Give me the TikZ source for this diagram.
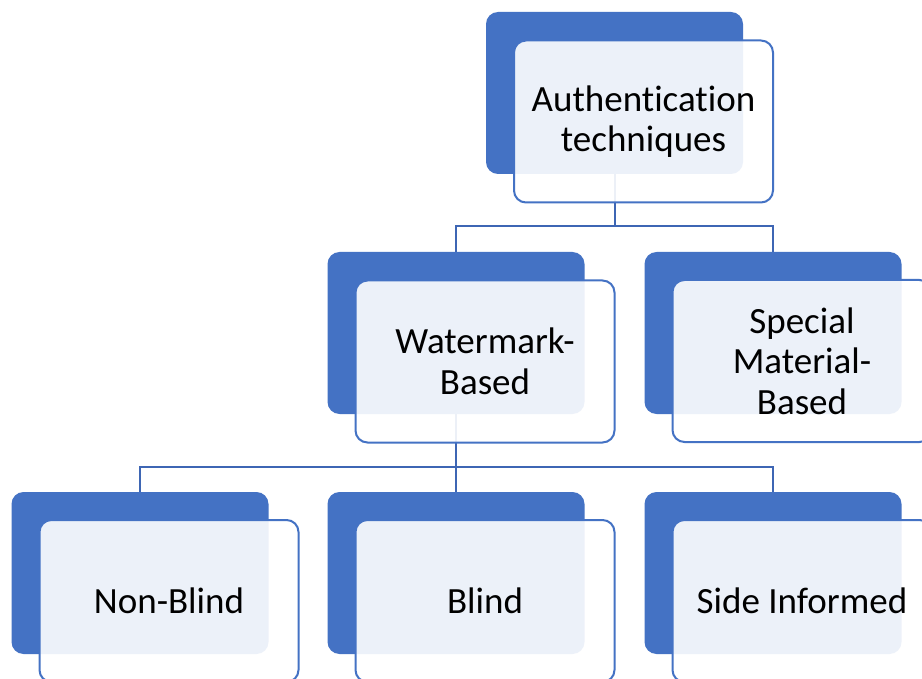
\documentclass[tikz,border=0pt]{standalone}
\usepackage{fontspec}
\setmainfont{Carlito}[RawFeature={-liga}]
\definecolor{accent}{HTML}{4472C4}
\definecolor{linkblue}{RGB}{62,102,180}
\begin{document}
\begin{tikzpicture}[x=1pt,y=-1pt,
  backbox/.style={draw=none,fill=accent,rounded corners=12pt,
    minimum width=257pt,minimum height=162pt,inner sep=0pt},
  frontbox/.style={draw=accent,line width=2pt,fill=white,fill opacity=0.9,
    text opacity=1,rounded corners=12pt,minimum width=259pt,minimum height=162pt,
    inner sep=0pt,align=center,font=\fontsize{37}{40.5}\selectfont},
  link/.style={draw=linkblue,line width=2pt}]
\useasboundingbox (0,0) rectangle (922,679);
\fill[white] (0,0) rectangle (922,679);

% back (solid) panels
\node[backbox] (topB) at (614.5,93) {};
\node[backbox] (wmB)  at (456,333) {};
\node[backbox] (smB)  at (773,333) {};
\node[backbox] (nbB)  at (140,573) {};
\node[backbox] (blB)  at (456,573) {};
\node[backbox] (siB)  at (773,573) {};

% connectors
\coordinate (j1) at (614.5,226.5);
\coordinate (j2) at (456,467);
\draw[link] (topB.south) -- (j1);
\draw[link] (j1) -| (wmB.north);
\draw[link] (j1) -| (smB.north);
\draw[link] (wmB.south) -- (j2);
\draw[link] (j2) -| (nbB.north);
\draw[link] (j2) -- (blB.north);
\draw[link] (j2) -| (siB.north);

% front (translucent) panels with labels
\node[frontbox] (top) at (643.5,121.5) {Authentication\\techniques};
\node[frontbox] (wm)  at (485,361.5) {Watermark-\\Based};
\node[frontbox] (sm)  at (802,361) {Special\\Material-\\Based};
\node[frontbox] (nb)  at (169,601) {Non-Blind};
\node[frontbox] (bl)  at (485,601) {Blind};
\node[frontbox] (si)  at (802,601) {Side Informed};
\end{tikzpicture}
\end{document}
